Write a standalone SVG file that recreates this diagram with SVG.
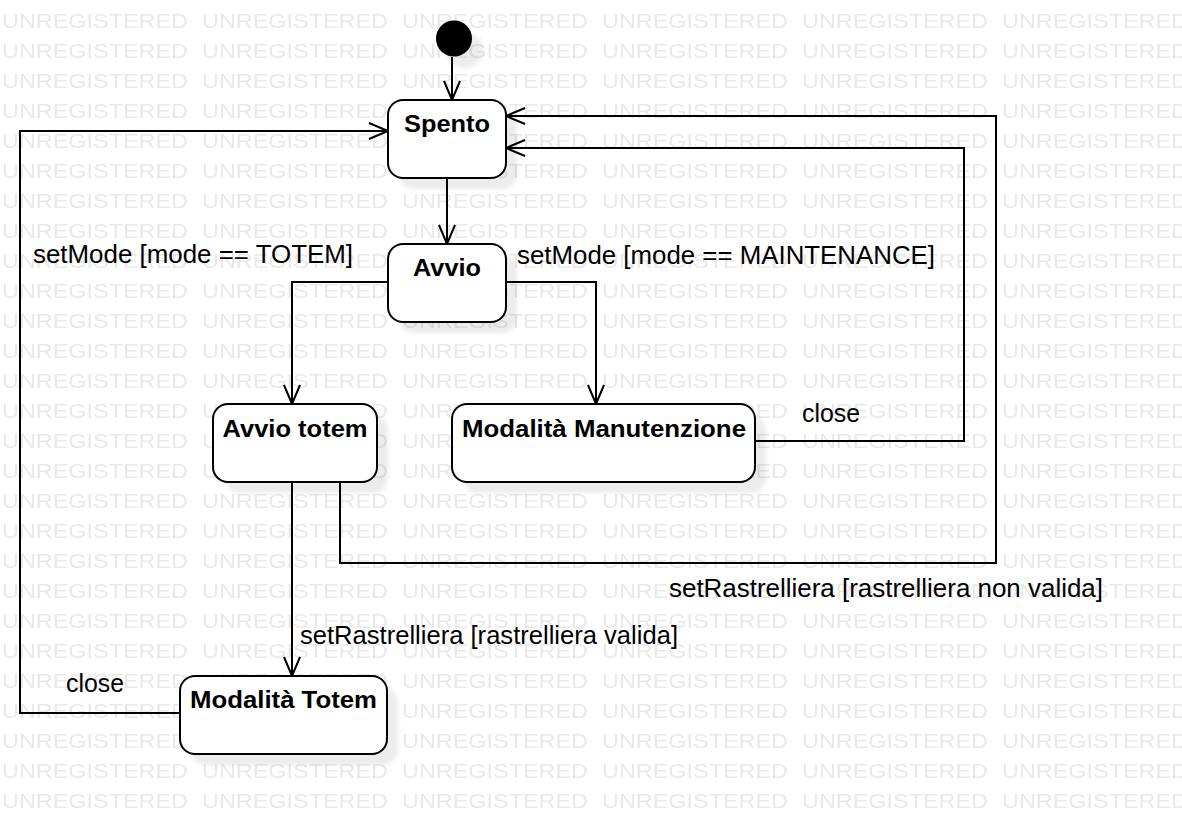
<svg xmlns="http://www.w3.org/2000/svg" width="1182" height="834" viewBox="0 0 1182 834">
  <style>
    .node rect { fill: #ffffff; stroke: #000000; stroke-width: 2; }
    .shadow { fill: #000000; fill-opacity: 0.075; filter: url(#blur); }
    .title { font-family: "Liberation Sans", Arial, sans-serif; font-size: 24px; font-weight: bold; fill: #000000; text-anchor: middle; }
    .lbl { font-family: "Liberation Sans", Arial, sans-serif; font-size: 25px; fill: #000000; }
    .wm { font-family: "Liberation Sans", Arial, sans-serif; font-size: 21px; fill: #e9e9e9; }
    .conn path { fill: none; stroke: #000000; stroke-width: 2; marker-end: url(#arr); }
  </style>
  <defs>
    <pattern id="wmark" patternUnits="userSpaceOnUse" x="0" y="0" width="200" height="30">
      <text class="wm" x="2" y="28" textLength="186" lengthAdjust="spacingAndGlyphs">UNREGISTERED</text>
    </pattern>
    <filter id="blur" x="-20%" y="-20%" width="140%" height="140%">
      <feGaussianBlur stdDeviation="2"/>
    </filter>
    <marker id="arr" markerUnits="userSpaceOnUse" viewBox="-22 -11 24 22" markerWidth="24" markerHeight="22" refX="0" refY="0" orient="auto" overflow="visible">
      <path d="M-19,-8 L0,0 L-19,8" fill="none" stroke="#000000" stroke-width="2"/>
    </marker>
  </defs>

  <rect x="0" y="0" width="1182" height="834" fill="#ffffff"/>
  <rect x="0" y="0" width="1182" height="812" fill="url(#wmark)"/>

  <!-- shadows -->
  <g id="shadows">
    <circle class="shadow" cx="465" cy="50" r="18"/>
    <rect class="shadow" x="399" y="111" width="118" height="78" rx="15"/>
    <rect class="shadow" x="399" y="255" width="118" height="78" rx="15"/>
    <rect class="shadow" x="224" y="415" width="164" height="78" rx="15"/>
    <rect class="shadow" x="463" y="415" width="303" height="78" rx="15"/>
    <rect class="shadow" x="191" y="687" width="207" height="78" rx="15"/>
  </g>

  <g id="connectors" class="conn">
    <path d="M452,57 L452,100"/>
    <path d="M447,178 L447,244"/>
    <path d="M388,282 L292,282 L292,404"/>
    <path d="M506,282 L596,282 L596,404"/>
    <path d="M755,441 L964,441 L964,148 L506,148"/>
    <path d="M340,482 L340,563 L996,563 L996,116 L506,116"/>
    <path d="M292,482 L292,676"/>
    <path d="M180,713 L20,713 L20,131 L388,131"/>
  </g>

  <g id="labels">
    <text class="lbl" x="33" y="263" textLength="320" lengthAdjust="spacingAndGlyphs">setMode [mode == TOTEM]</text>
    <text class="lbl" x="517" y="264" textLength="418" lengthAdjust="spacingAndGlyphs">setMode [mode == MAINTENANCE]</text>
    <text class="lbl" x="802" y="422" textLength="58" lengthAdjust="spacingAndGlyphs">close</text>
    <text class="lbl" x="669" y="597" textLength="434" lengthAdjust="spacingAndGlyphs">setRastrelliera [rastrelliera non valida]</text>
    <text class="lbl" x="300" y="644" textLength="378" lengthAdjust="spacingAndGlyphs">setRastrelliera [rastrelliera valida]</text>
    <text class="lbl" x="66" y="692" textLength="58" lengthAdjust="spacingAndGlyphs">close</text>
  </g>

  <g id="initial">
    <circle cx="454" cy="38.5" r="18" fill="#000000"/>
  </g>

  <g id="spento" class="node">
    <rect x="388" y="100" width="118" height="78" rx="15"/>
    <text class="title" x="447" y="132" textLength="86" lengthAdjust="spacingAndGlyphs">Spento</text>
  </g>

  <g id="avvio" class="node">
    <rect x="388" y="244" width="118" height="78" rx="15"/>
    <text class="title" x="447" y="276" textLength="68" lengthAdjust="spacingAndGlyphs">Avvio</text>
  </g>

  <g id="avvio-totem" class="node">
    <rect x="213" y="404" width="164" height="78" rx="15"/>
    <text class="title" x="295" y="437" textLength="145" lengthAdjust="spacingAndGlyphs">Avvio totem</text>
  </g>

  <g id="modalita-manutenzione" class="node">
    <rect x="452" y="404" width="303" height="78" rx="15"/>
    <text class="title" x="604" y="437" textLength="284" lengthAdjust="spacingAndGlyphs">Modalità Manutenzione</text>
  </g>

  <g id="modalita-totem" class="node">
    <rect x="180" y="676" width="207" height="78" rx="15"/>
    <text class="title" x="283.5" y="708" textLength="187" lengthAdjust="spacingAndGlyphs">Modalità Totem</text>
  </g>
</svg>
